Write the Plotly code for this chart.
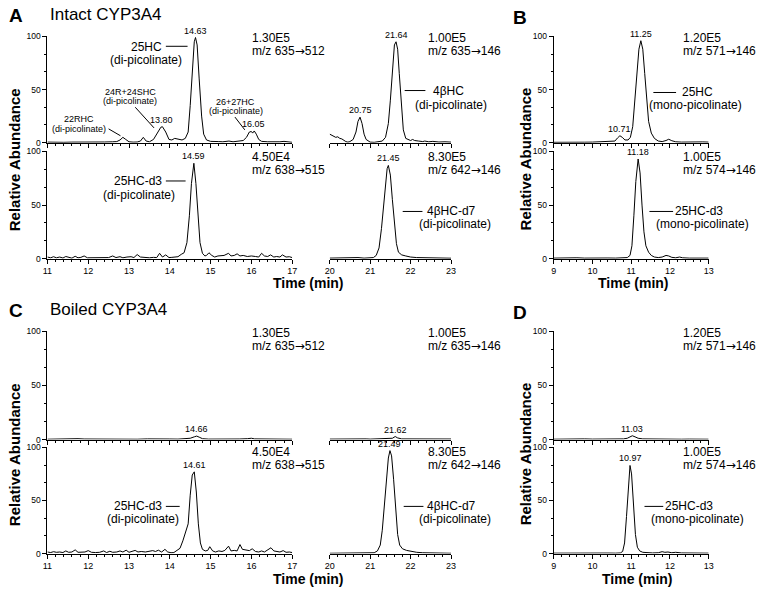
import plotly.graph_objects as go

W, H = 761, 593
FONT = "Liberation Sans, Arial, sans-serif"

# ---------------- data (time in min, relative abundance %) ----------------
# Panel A, upper, 11-17 min, m/z 635->512
a_up1_t = [11.0, 11.1, 11.2, 11.4, 11.6, 11.8, 12.0, 12.2, 12.4, 12.6, 12.7, 12.78, 12.85, 12.92, 13.0,
           13.1, 13.2, 13.28, 13.35, 13.42, 13.5, 13.6, 13.7, 13.78, 13.82, 13.9, 13.98, 14.05, 14.12,
           14.2, 14.3, 14.38, 14.45, 14.5, 14.55, 14.6, 14.63, 14.67, 14.72, 14.78, 14.83, 14.9, 15.0,
           15.1, 15.2, 15.3, 15.45, 15.55, 15.7, 15.8, 15.88, 15.95, 16.0, 16.03, 16.07, 16.12, 16.18,
           16.25, 16.4, 16.55, 16.7, 16.8, 16.9, 17.0]
a_up1_y = [0.5, 0.3, 0.6, 0.3, 0.5, 0.4, 0.3, 0.5, 0.6, 0.8, 1.0, 2.5, 5.0, 3.0, 0.8,
           0.5, 0.6, 1.5, 5.0, 1.5, 0.8, 3.0, 10.0, 14.5, 15.0, 10.0, 3.0, 2.5, 4.0,
           3.5, 2.5, 4.0, 10.0, 35.0, 70.0, 95.0, 99.0, 92.0, 60.0, 25.0, 8.0, 2.5, 1.2,
           0.8, 1.0, 0.8, 1.5, 0.8, 1.2, 2.0, 5.0, 10.0, 10.5, 9.0, 11.0, 8.0, 3.0,
           1.2, 0.8, 0.5, 0.8, 1.2, 0.5, 0.3]
# Panel A, upper, 20-23 min, m/z 635->146
a_up2_t = [20.0, 20.05, 20.1, 20.15, 20.2, 20.25, 20.3, 20.35, 20.4, 20.45, 20.5, 20.58, 20.65, 20.7,
           20.75, 20.8, 20.85, 20.9, 20.95, 21.0, 21.1, 21.2, 21.3, 21.38, 21.45, 21.5, 21.55, 21.6,
           21.64, 21.68, 21.72, 21.77, 21.82, 21.88, 21.95, 22.0, 22.05, 22.1, 22.2, 22.3, 22.35,
           22.45, 22.55, 22.7, 22.85, 23.0]
a_up2_y = [8.0, 7.0, 6.5, 5.0, 5.5, 4.0, 3.5, 2.0, 1.0, 0.5, 1.0, 3.0, 10.0, 20.0,
           24.0, 18.0, 8.0, 3.0, 1.5, 0.5, 0.3, 0.8, 1.5, 5.0, 18.0, 40.0, 70.0, 92.0,
           95.0, 88.0, 65.0, 35.0, 12.0, 4.0, 2.5, 2.0, 3.0, 2.0, 1.5, 1.0, 1.5,
           0.8, 1.2, 0.6, 0.8, 0.5]
# Panel A, lower, 11-17 min, m/z 638->515
a_lo1_t = [11.0, 11.08, 11.15, 11.22, 11.3, 11.38, 11.45, 11.52, 11.6, 11.68, 11.75, 11.82, 11.9, 11.98,
           12.1, 12.2, 12.3, 12.4, 12.5, 12.6, 12.68, 12.78, 12.85, 12.95, 13.05, 13.12, 13.2, 13.28,
           13.38, 13.5, 13.6, 13.68, 13.75, 13.82, 13.9, 13.98, 14.05, 14.12, 14.2, 14.28, 14.35,
           14.42, 14.48, 14.53, 14.59, 14.64, 14.69, 14.74, 14.8, 14.86, 14.9, 14.96, 15.03, 15.1,
           15.18, 15.25, 15.33, 15.44, 15.5, 15.58, 15.65, 15.72, 15.8, 15.9, 16.0, 16.1, 16.18,
           16.25, 16.32, 16.4, 16.47, 16.55, 16.62, 16.7, 16.76, 16.85, 16.93, 17.0]
a_lo1_y = [1.5, 0.8, 1.8, 0.8, 1.5, 0.6, 2.0, 1.0, 0.5, 2.2, 0.8, 1.2, 2.5, 0.8,
           1.0, 0.7, 1.2, 0.8, 1.0, 2.5, 1.0, 1.8, 0.8, 1.5, 1.8, 1.0, 3.8, 1.5,
           1.0, 0.8, 1.2, 1.0, 5.0, 1.5, 3.5, 1.0, 1.2, 1.5, 1.8, 4.0, 5.5,
           15.0, 40.0, 70.0, 89.0, 70.0, 38.0, 15.0, 5.0, 2.5, 3.0, 5.5, 3.0, 1.5,
           2.5, 2.5, 3.0, 5.0, 2.5, 3.0, 4.5, 2.5, 3.0, 2.0, 2.5, 2.0, 1.5,
           5.0, 2.5, 2.0, 3.5, 1.5, 2.0, 1.5, 3.5, 1.5, 1.8, 1.0]
# Panel A, lower, 20-23 min, m/z 642->146
a_lo2_t = [20.0, 20.2, 20.4, 20.55, 20.7, 20.85, 21.0, 21.08, 21.15, 21.22, 21.28, 21.33, 21.38, 21.42,
           21.45, 21.5, 21.55, 21.6, 21.65, 21.7, 21.78, 21.88, 22.0, 22.15, 22.3, 22.5, 22.7, 23.0]
a_lo2_y = [0.5, 0.8, 0.6, 1.2, 1.0, 0.5, 0.6, 1.0, 3.0, 10.0, 28.0, 50.0, 72.0, 84.0,
           87.0, 78.0, 55.0, 30.0, 14.0, 6.0, 3.5, 2.5, 1.5, 1.0, 0.8, 0.6, 0.5, 0.4]
# Panel B, upper, m/z 571->146
b_up_t = [9.0, 9.2, 9.4, 9.6, 9.8, 10.0, 10.2, 10.35, 10.5, 10.58, 10.65, 10.71, 10.77, 10.84, 10.92,
          10.98, 11.04, 11.1, 11.15, 11.2, 11.25, 11.3, 11.35, 11.4, 11.45, 11.52, 11.6, 11.7, 11.8,
          11.9, 11.97, 12.05, 12.15, 12.3, 12.5, 12.7, 12.85, 13.0]
b_up_y = [0.3, 0.5, 0.3, 0.6, 0.4, 0.5, 0.8, 0.5, 0.8, 1.5, 4.5, 6.5, 5.0, 2.5, 2.5,
          5.0, 15.0, 40.0, 68.0, 88.0, 96.0, 88.0, 65.0, 38.0, 20.0, 9.0, 4.0, 1.5, 1.0,
          2.0, 3.2, 1.8, 0.8, 0.5, 0.8, 0.5, 0.7, 0.5]
# Panel B, lower, m/z 574->146
b_lo_t = [9.0, 9.2, 9.4, 9.6, 9.8, 10.0, 10.2, 10.4, 10.6, 10.8, 10.9, 10.97, 11.02, 11.07, 11.12,
          11.18, 11.23, 11.28, 11.33, 11.38, 11.45, 11.52, 11.6, 11.7, 11.8, 11.9, 11.97, 12.05,
          12.15, 12.25, 12.33, 12.5, 12.7, 12.85, 13.0]
b_lo_y = [0.5, 0.7, 0.5, 0.8, 0.5, 0.7, 0.5, 0.6, 0.5, 0.6, 1.0, 3.0, 12.0, 40.0, 72.0,
          93.0, 80.0, 50.0, 25.0, 12.0, 6.0, 3.0, 1.5, 1.0, 1.5, 3.0, 2.5, 1.2,
          0.8, 1.5, 0.8, 0.5, 0.6, 0.4, 0.5]
# Panel C, upper, 11-17 min, m/z 635->512
c_up1_t = [11.0, 11.2, 11.35, 11.45, 11.6, 11.75, 11.9, 12.1, 12.3, 12.45, 12.55, 12.8, 13.0, 13.2,
           13.45, 13.6, 13.8, 14.0, 14.2, 14.35, 14.5, 14.6, 14.66, 14.72, 14.8, 14.95, 15.1, 15.3,
           15.5, 15.7, 15.9, 16.0, 16.08, 16.3, 16.5, 16.75, 17.0]
c_up1_y = [0.3, 0.5, 0.9, 0.4, 0.6, 0.8, 0.5, 0.4, 0.5, 0.9, 0.4, 0.3, 0.4, 0.3,
           0.6, 0.4, 0.3, 0.5, 0.4, 0.8, 1.2, 2.5, 3.2, 2.2, 0.8, 0.4, 0.3, 0.4,
           0.3, 0.5, 0.8, 1.2, 0.6, 0.4, 0.3, 0.4, 0.3]
# Panel C, upper, 20-23 min, m/z 635->146
c_up2_t = [20.0, 20.2, 20.4, 20.55, 20.7, 20.9, 21.0, 21.2, 21.35, 21.45, 21.55, 21.62, 21.68, 21.78,
           22.0, 22.2, 22.4, 22.55, 22.8, 23.0]
c_up2_y = [0.4, 0.6, 0.5, 0.9, 0.5, 0.6, 0.4, 0.5, 0.8, 0.5, 1.2, 2.8, 1.5, 0.6,
           0.5, 0.6, 0.9, 0.5, 0.6, 0.5]
# Panel C, lower, 11-17 min, m/z 638->515
c_lo1_t = [11.0, 11.08, 11.15, 11.22, 11.3, 11.38, 11.45, 11.52, 11.6, 11.68, 11.75, 11.85, 11.92, 12.0,
           12.08, 12.18, 12.28, 12.38, 12.45, 12.53, 12.6, 12.7, 12.78, 12.85, 12.93, 13.0, 13.08,
           13.15, 13.22, 13.3, 13.4, 13.5, 13.58, 13.65, 13.72, 13.8, 13.88, 13.95, 14.03, 14.1,
           14.18, 14.25, 14.32, 14.4, 14.45, 14.5, 14.55, 14.6, 14.65, 14.7, 14.75, 14.8, 14.87,
           14.93, 14.98, 15.05, 15.12, 15.2, 15.28, 15.35, 15.44, 15.5, 15.58, 15.65, 15.72, 15.78,
           15.86, 15.95, 16.02, 16.1, 16.18, 16.25, 16.32, 16.4, 16.48, 16.55, 16.62, 16.7, 16.78,
           16.85, 16.93, 17.0]
c_lo1_y = [1.5, 1.0, 1.8, 1.2, 1.5, 1.0, 2.5, 1.2, 1.5, 3.5, 1.2, 1.0, 1.5, 2.8,
           1.2, 1.0, 1.2, 2.5, 1.0, 2.2, 1.2, 1.5, 2.5, 1.5, 3.2, 1.2, 1.8,
           3.0, 1.5, 2.0, 1.5, 2.5, 2.8, 2.0, 3.2, 1.5, 4.0, 1.5, 0.8, 1.0,
           3.0, 5.0, 12.0, 22.0, 28.0, 55.0, 74.0, 77.0, 58.0, 28.0, 10.0, 4.0, 2.5,
           3.0, 6.5, 2.5, 1.5, 2.5, 2.0, 3.0, 7.0, 2.5, 3.0, 2.5, 8.5, 4.0,
           3.5, 2.8, 4.5, 2.0, 1.5, 2.5, 1.5, 3.5, 5.5, 2.5, 2.0, 1.5, 2.8,
           1.2, 1.5, 1.0]
# Panel C, lower, 20-23 min, m/z 642->146
c_lo2_t = [20.0, 20.3, 20.6, 20.9, 21.1, 21.18, 21.25, 21.3, 21.35, 21.4, 21.45, 21.49, 21.53, 21.58,
           21.63, 21.68, 21.73, 21.8, 21.9, 22.0, 22.15, 22.3, 22.5, 22.75, 23.0]
c_lo2_y = [0.3, 0.5, 0.4, 0.5, 0.8, 2.5, 8.0, 22.0, 45.0, 72.0, 90.0, 97.0, 92.0, 70.0,
           40.0, 18.0, 8.0, 4.5, 3.0, 2.0, 1.2, 0.8, 0.6, 0.4, 0.3]
# Panel D, upper, m/z 571->146
d_up_t = [9.0, 9.2, 9.4, 9.6, 9.8, 10.0, 10.2, 10.4, 10.6, 10.8, 10.9, 10.97, 11.03, 11.1, 11.18,
          11.3, 11.5, 11.7, 11.9, 12.1, 12.3, 12.5, 12.7, 13.0]
d_up_y = [0.3, 0.5, 0.3, 0.4, 0.6, 0.4, 0.3, 0.5, 0.4, 0.6, 1.2, 2.5, 3.5, 2.5, 1.2,
          0.6, 0.4, 0.5, 0.3, 0.4, 0.3, 0.4, 0.3, 0.3]
# Panel D, lower, m/z 574->146
d_lo_t = [9.0, 9.2, 9.4, 9.6, 9.8, 10.0, 10.2, 10.4, 10.6, 10.72, 10.78, 10.83, 10.88, 10.93, 10.97,
          11.01, 11.06, 11.11, 11.16, 11.22, 11.3, 11.4, 11.55, 11.7, 11.8, 11.87, 11.95, 12.05,
          12.15, 12.3, 12.5, 12.7, 13.0]
d_lo_y = [0.4, 0.5, 0.3, 0.5, 0.4, 0.5, 0.4, 0.5, 0.4, 0.6, 2.0, 10.0, 35.0, 68.0, 83.0,
          75.0, 45.0, 18.0, 6.0, 2.5, 1.2, 0.8, 0.6, 0.8, 1.8, 1.2, 1.5, 0.8,
          1.2, 0.6, 0.4, 0.5, 0.4]

# peak retention-time labels per trace
a_up1_peaks = ["13.80", "14.63", "16.05"]
a_up2_peaks = ["20.75", "21.64"]
a_lo1_peaks = ["14.59"]
a_lo2_peaks = ["21.45"]
b_up_peaks = ["10.71", "11.25"]
b_lo_peaks = ["11.18"]
c_up1_peaks = ["14.66"]
c_up2_peaks = ["21.62"]
c_lo1_peaks = ["14.61"]
c_lo2_peaks = ["21.49"]
d_up_peaks = ["11.03"]
d_lo_peaks = ["10.97"]

# ---------------- layout of sub-plots (pixel boxes) ----------------
AX1 = (43, 291)
AX2 = (329, 452)
BX = (556, 713)
panels = [
    (a_up1_t, a_up1_y, a_up1_peaks, [11, 17], AX1, (32, 140), True, False),
    (a_up2_t, a_up2_y, a_up2_peaks, [20, 23], AX2, (32, 140), False, False),
    (a_lo1_t, a_lo1_y, a_lo1_peaks, [11, 17], AX1, (149, 258), True, True),
    (a_lo2_t, a_lo2_y, a_lo2_peaks, [20, 23], AX2, (149, 258), False, True),
    (b_up_t, b_up_y, b_up_peaks, [9, 13], BX, (32, 140), True, False),
    (b_lo_t, b_lo_y, b_lo_peaks, [9, 13], BX, (149, 258), True, True),
    (c_up1_t, c_up1_y, c_up1_peaks, [11, 17], AX1, (332, 442), True, False),
    (c_up2_t, c_up2_y, c_up2_peaks, [20, 23], AX2, (332, 442), False, False),
    (c_lo1_t, c_lo1_y, c_lo1_peaks, [11, 17], AX1, (450, 558), True, True),
    (c_lo2_t, c_lo2_y, c_lo2_peaks, [20, 23], AX2, (450, 558), False, True),
    (d_up_t, d_up_y, d_up_peaks, [9, 13], BX, (332, 442), True, False),
    (d_lo_t, d_lo_y, d_lo_peaks, [9, 13], BX, (450, 558), True, True),
]


def pxx(x):
    return x / W


def pxy(y):
    return 1 - y / H


ARROW = '<span style="font-family:DejaVu Sans">\u2192</span>'

fig = go.Figure()
layout = dict(width=W, height=H, margin=dict(l=0, r=0, t=0, b=0),
              paper_bgcolor="white", plot_bgcolor="rgba(0,0,0,0)",
              font=dict(family=FONT, color="black"), showlegend=False)
annotations = []
shapes = []

for i, (t, y, peaks, xr, (x0, x1), (yt, yb), show_y, show_xl) in enumerate(panels, start=1):
    xs = "" if i == 1 else str(i)
    fig.add_trace(go.Scatter(x=t, y=y, mode="lines", line=dict(color="black", width=1),
                             xaxis="x" + xs, yaxis="y" + xs, hoverinfo="skip", showlegend=False))
    layout["xaxis" + xs] = dict(
        domain=[pxx(x0), pxx(x1)], range=xr, anchor="y" + xs,
        showline=True, linecolor="black", linewidth=1, mirror=False,
        ticks="outside", ticklen=4, tickwidth=1, tickcolor="black", dtick=1, tick0=0,
        showticklabels=show_xl, tickfont=dict(size=9, family=FONT), showgrid=False, zeroline=False,
        minor=dict(dtick=0.2, tick0=0, ticks="outside", ticklen=2, tickcolor="black", showgrid=False),
        fixedrange=True)
    layout["yaxis" + xs] = dict(
        domain=[pxy(yb), pxy(yt)], range=[0, 100], anchor="x" + xs, visible=show_y,
        showline=True, linecolor="black", linewidth=1,
        ticks="outside", ticklen=4, tickwidth=1, tickcolor="black", tickvals=[0, 50, 100],
        tickfont=dict(size=8.5, family=FONT), showgrid=False, zeroline=False,
        minor=dict(dtick=50 / 3, tick0=0, ticks="outside", ticklen=2, tickcolor="black", showgrid=False),
        fixedrange=True)
    for lab in peaks:
        tp = float(lab)
        cand = [(v, tt) for tt, v in zip(t, y) if abs(tt - tp) <= 0.07]
        vmax, tmax = max(cand)
        annotations.append(dict(x=tp, y=vmax, xref="x" + xs, yref="y" + xs, text=lab,
                                showarrow=False, yanchor="bottom", xanchor="center", yshift=0,
                                font=dict(size=9, family=FONT)))

# ---------------- texts ----------------
# (text, x, y, size, xanchor, bold)
texts = [
    ("A", 2, 11, 19, "left", True),
    ("Intact CYP3A4", 44, 10, 17, "left", False),
    ("B", 513, 13, 19, "left", True),
    ("C", 2, 311, 19, "left", True),
    ("Boiled CYP3A4", 44, 310, 17, "left", False),
    ("D", 513, 313, 19, "left", True),
    # A upper
    ("25HC", 143, 43, 12, "center", False),
    ("(di-picolinate)", 143, 56, 12, "center", False),
    ("24R+24SHC", 127, 88, 9, "center", False),
    ("(di-picolinate)", 127, 98, 9, "center", False),
    ("22RHC", 75, 116, 9, "center", False),
    ("(di-picolinate)", 75, 126, 9, "center", False),
    ("26+27HC", 234, 99, 9, "center", False),
    ("(di-picolinate)", 234, 108, 9, "center", False),
    ("1.30E5", 248, 34, 12, "left", False),
    ("m/z 635" + ARROW + "512", 248, 47, 12, "left", False),
    ("1.00E5", 427, 34, 12, "left", False),
    ("m/z 635" + ARROW + "146", 427, 47, 12, "left", False),
    ("4\u03b2HC", 449, 87, 12, "center", False),
    ("(di-picolinate)", 452, 102, 12, "center", False),
    # A lower
    ("4.50E4", 248, 155, 12, "left", False),
    ("m/z 638" + ARROW + "515", 248, 168, 12, "left", False),
    ("25HC-d3", 135, 179, 12, "center", False),
    ("(di-picolinate)", 136, 193, 12, "center", False),
    ("8.30E5", 427, 155, 12, "left", False),
    ("m/z 642" + ARROW + "146", 427, 168, 12, "left", False),
    ("4\u03b2HC-d7", 452, 210, 12, "center", False),
    ("(di-picolinate)", 456, 223, 12, "center", False),
    # B
    ("1.20E5", 685, 34, 12, "left", False),
    ("m/z 571" + ARROW + "146", 685, 47, 12, "left", False),
    ("25HC", 702, 89, 12, "center", False),
    ("(mono-picolinate)", 700, 102, 12, "center", False),
    ("1.00E5", 685, 155, 12, "left", False),
    ("m/z 574" + ARROW + "146", 685, 168, 12, "left", False),
    ("25HC-d3", 703, 210, 12, "center", False),
    ("(mono-picolinate)", 707, 223, 12, "center", False),
    # C
    ("1.30E5", 248, 334, 12, "left", False),
    ("m/z 635" + ARROW + "512", 248, 347, 12, "left", False),
    ("1.00E5", 427, 334, 12, "left", False),
    ("m/z 635" + ARROW + "146", 427, 347, 12, "left", False),
    ("4.50E4", 248, 455, 12, "left", False),
    ("m/z 638" + ARROW + "515", 248, 468, 12, "left", False),
    ("25HC-d3", 135, 510, 12, "center", False),
    ("(di-picolinate)", 140, 523, 12, "center", False),
    ("8.30E5", 427, 455, 12, "left", False),
    ("m/z 642" + ARROW + "146", 427, 468, 12, "left", False),
    ("4\u03b2HC-d7", 452, 510, 12, "center", False),
    ("(di-picolinate)", 456, 523, 12, "center", False),
    # D
    ("1.20E5", 685, 334, 12, "left", False),
    ("m/z 571" + ARROW + "146", 685, 347, 12, "left", False),
    ("1.00E5", 685, 455, 12, "left", False),
    ("m/z 574" + ARROW + "146", 685, 468, 12, "left", False),
    ("25HC-d3", 693, 510, 12, "center", False),
    ("(mono-picolinate)", 702, 523, 12, "center", False),
    # axis titles
    ("Time (min)", 308, 283, 14, "center", True),
    ("Time (min)", 637, 283, 14, "center", True),
    ("Time (min)", 308, 584, 14, "center", True),
    ("Time (min)", 641, 584, 14, "center", True),
]
for txt, x, y, size, xa, bold in texts:
    annotations.append(dict(x=pxx(x), y=pxy(y), xref="paper", yref="paper",
                            text=("<b>%s</b>" % txt) if bold else txt, showarrow=False,
                            xanchor=xa, yanchor="middle", font=dict(size=size, family=FONT)))

# rotated y titles
for x, y in [(9, 157), (527, 157), (9, 457), (527, 457)]:
    annotations.append(dict(x=pxx(x), y=pxy(y), xref="paper", yref="paper",
                            text="<b>Relative Abundance</b>", showarrow=False, textangle=-90,
                            xanchor="center", yanchor="middle", font=dict(size=15, family=FONT)))

# leader lines (pixel coordinates)
leaders = [
    (163, 42, 185, 42), (132, 104, 151, 125), (105, 126, 117, 133), (233, 114, 243, 127),
    (405, 87, 426, 87), (163, 179, 183, 179), (403, 210, 423, 210),
    (657, 89, 680, 89), (653, 210, 677, 210),
    (163, 510, 177, 510), (404, 510, 424, 510), (648, 510, 667, 510),
]
for xa_, ya_, xb_, yb_ in leaders:
    shapes.append(dict(type="line", xref="paper", yref="paper",
                       x0=pxx(xa_), y0=pxy(ya_), x1=pxx(xb_), y1=pxy(yb_),
                       line=dict(color="black", width=1)))

layout["annotations"] = annotations
layout["shapes"] = shapes
fig.update_layout(**layout)
fig.write_html("out.html", config={"displayModeBar": False, "staticPlot": True},
               post_script="document.body.style.margin='0px';document.body.style.padding='0px';")
